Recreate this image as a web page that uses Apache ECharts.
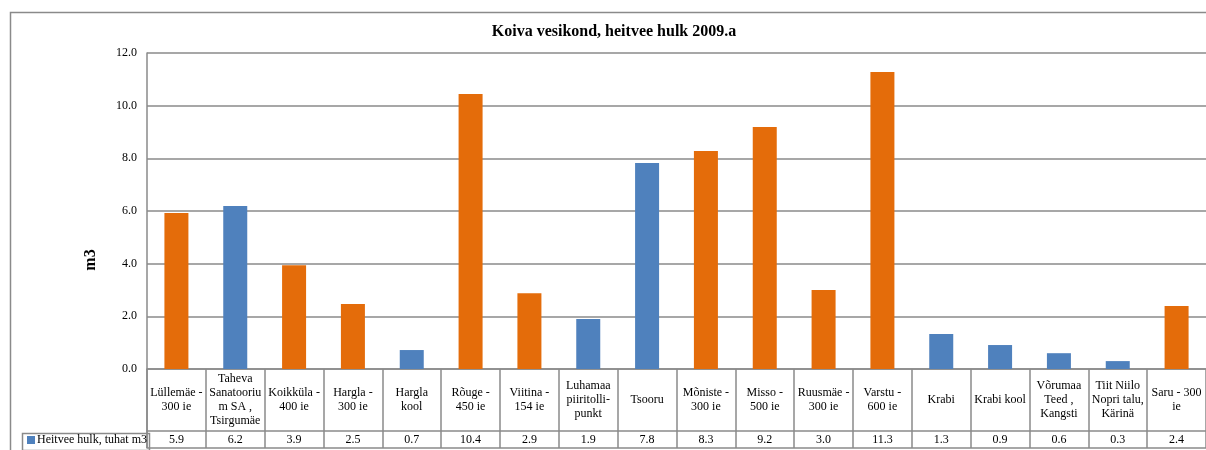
<!DOCTYPE html>
<html>
<head>
<meta charset="utf-8">
<script src="https://cdn.jsdelivr.net/npm/echarts@6/dist/echarts.min.js"></script>
<style>
html,body{margin:0;padding:0;background:#fff;}
#c{width:1206px;height:450px;}
</style>
</head>
<body>
<div id="c"></div>
<script>
var titleText = 'Koiva vesikond, heitvee hulk 2009.a';
var seriesName = 'Heitvee hulk, tuhat m3';
var yAxisName = 'm3';
var categories = [
  'Lüllemäe -\n300 ie',
  'Taheva\nSanatooriu\nm SA ,\nTsirgumäe',
  'Koikküla -\n400 ie',
  'Hargla -\n300 ie',
  'Hargla\nkool',
  'Rõuge -\n450 ie',
  'Viitina -\n154 ie',
  'Luhamaa\npiiritolli-\npunkt',
  'Tsooru',
  'Mõniste -\n300 ie',
  'Misso -\n500 ie',
  'Ruusmäe -\n300 ie',
  'Varstu -\n600 ie',
  'Krabi',
  'Krabi kool',
  'Võrumaa\nTeed ,\nKangsti',
  'Tiit Niilo\nNopri talu,\nKärinä',
  'Saru - 300\nie'
];
var values = [5.92, 6.19, 3.94, 2.47, 0.72, 10.44, 2.88, 1.90, 7.82, 8.28, 9.19, 3.00, 11.28, 1.33, 0.91, 0.60, 0.30, 2.39];
var colorGroup = ['o','b','o','o','b','o','o','b','b','o','o','o','o','b','b','b','b','o'];
var yTicks = [0, 2, 4, 6, 8, 10, 12];

var ORANGE = '#E46C0A', BLUE = '#4F81BD', GRAY = '#8a8a8a';
var FONT = "'Liberation Serif','Times New Roman',serif";

var chart = echarts.init(document.getElementById('c'));
var barData = values.map(function (v, i) {
  return { value: v, itemStyle: { color: colorGroup[i] === 'b' ? BLUE : ORANGE } };
});

chart.setOption({
  animation: false,
  backgroundColor: '#fff',
  title: {
    text: titleText, left: 609, textAlign: 'center', top: 19,
    textStyle: { fontFamily: FONT, fontSize: 16, fontWeight: 'bold', color: '#000' }
  },
  legend: {
    show: true, left: 22, top: 429, itemWidth: 8, itemHeight: 8, icon: 'rect',
    textStyle: { fontFamily: FONT, fontSize: 12, color: '#000', padding: [0, 0, 0, -3] },
    data: [seriesName]
  },
  grid: { left: 147, top: 53, width: 1066, height: 316 },
  xAxis: [{
    type: 'category', data: categories, position: 'bottom',
    axisLine: { show: true, lineStyle: { color: GRAY, width: 1.5 } },
    axisTick: { show: true, interval: 0, length: 62, lineStyle: { color: GRAY, width: 1.5 } },
    axisLabel: { interval: 0, margin: 31, verticalAlign: 'middle', lineHeight: 14,
      fontFamily: FONT, fontSize: 12, color: '#000' },
    splitLine: { show: false }
  }, {
    type: 'category', data: categories, position: 'bottom', offset: 62,
    axisLine: { show: true, lineStyle: { color: GRAY, width: 1.5 } },
    axisTick: { show: true, interval: 0, length: 17, lineStyle: { color: GRAY, width: 1.5 } },
    axisLabel: { interval: 0, margin: 9, verticalAlign: 'middle',
      fontFamily: FONT, fontSize: 12, color: '#000',
      formatter: function (v, i) { return values[i].toFixed(1); } },
    splitLine: { show: false }
  }, {
    type: 'category', data: categories, position: 'bottom', offset: 79,
    axisLine: { show: true, lineStyle: { color: GRAY, width: 1.5 } },
    axisTick: { show: false }, axisLabel: { show: false }, splitLine: { show: false }
  }],
  yAxis: {
    type: 'value', min: yTicks[0], max: yTicks[yTicks.length - 1], interval: 2,
    axisLine: { show: true, lineStyle: { color: GRAY, width: 1.5 } },
    axisTick: { show: false },
    axisLabel: { margin: 10, fontFamily: FONT, fontSize: 12, color: '#000',
      formatter: function (v) { return v.toFixed(1); } },
    splitLine: { show: true, lineStyle: { color: GRAY, width: 1.5 } }
  },
  series: [{
    name: seriesName, type: 'bar', data: barData, barWidth: 24,
    itemStyle: { color: BLUE }
  }],
  graphic: [
    { type: 'rect', left: 8, top: 10, shape: { width: 1300, height: 500 },
      style: { fill: 'none', stroke: GRAY, lineWidth: 1.5 }, silent: true, z: -1 },
    { type: 'rect', left: 20, top: 431, shape: { width: 127, height: 17 },
      style: { fill: 'none', stroke: GRAY, lineWidth: 1.5 }, silent: true },
    { type: 'line', shape: { x1: 147, y1: 369, x2: 147, y2: 448 },
      style: { stroke: GRAY, lineWidth: 1.5 }, silent: true },
    { type: 'text', x: 91, y: 260, rotation: Math.PI / 2,
      style: { text: yAxisName, fontFamily: FONT, fontSize: 16, fontWeight: 'bold', fill: '#000',
        textAlign: 'center', textVerticalAlign: 'middle' }, silent: true }
  ]
});
</script>
</body>
</html>
